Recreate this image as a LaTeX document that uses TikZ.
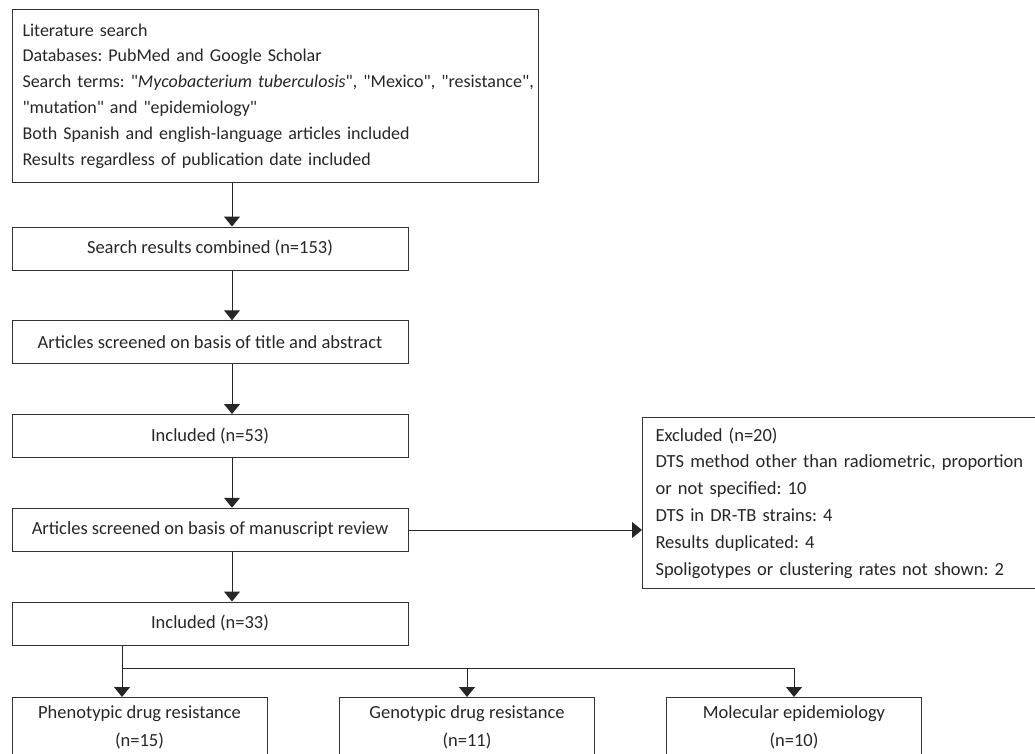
\documentclass[tikz,border=0pt]{standalone}
\usepackage{fontspec}
\setmainfont{Carlito}
\usetikzlibrary{arrows.meta,positioning}
\tikzstyle{search} = [rectangle, draw=black!80, line width=1pt, minimum width=526pt, minimum height=173pt, text width=506pt, inner xsep=10pt, inner ysep=0pt, align=left, font=\fontsize{18}{25.8}\selectfont]
\tikzstyle{process} = [rectangle, draw=black!80, line width=1pt, minimum width=396pt, minimum height=43pt, text centered, font=\fontsize{18.5}{20}\selectfont]
\tikzstyle{excluded} = [rectangle, draw=black!80, line width=1pt, minimum width=410pt, minimum height=171pt, text width=384pt, inner xsep=13pt, inner ysep=0pt, align=left, font=\fontsize{18.5}{26.8}\selectfont]
\tikzstyle{outcome} = [rectangle, draw=black!80, line width=1pt, minimum width=255pt, minimum height=60pt, align=center, inner ysep=0pt, font=\fontsize{18.5}{28}\selectfont]
\tikzstyle{arrow} = [line width=1pt, draw=black!85, -{Triangle[width=16pt,length=10pt]}]
\tikzstyle{line} = [line width=1pt, draw=black!85]
\newcommand{\qt}[1]{\textquotedbl#1\textquotedbl}

\begin{document}
\frenchspacing
\begin{tikzpicture}[x=1pt, y=-1pt, node distance=93.75pt, text=black!85]
\clip (0,0) rectangle (1035,754);
\useasboundingbox (0,0) rectangle (1035,754);

\node (lit) [search, anchor=north west] at (12,9) {Literature search\\
Databases: PubMed and Google Scholar\\
\mbox{Search terms: \qt{\textit{Mycobacterium tuberculosis}}, \qt{Mexico}, \qt{resistance},}\\
\qt{mutation} and \qt{epidemiology}\\
Both Spanish and english-language articles included\\
Results regardless of publication date included};
\node (comb) [process] at (210,248.5) {Search results combined (n=153)};
\node (title) [process, below of=comb] {Articles screened on basis of title and abstract};
\node (inc53) [process, below of=title] {Included (n=53)};
\node (manu) [process, below of=inc53] {Articles screened on basis of manuscript review};
\node (inc33) [process, below of=manu] {Included (n=33)};
\node (excl) [excluded, anchor=north west] at (642,417) {Excluded (n=20)\\
\mbox{DTS method other than radiometric, proportion}\\
or not specified: 10\\
DTS in DR-TB strains: 4\\
Results duplicated: 4\\
Spoligotypes or clustering rates not shown: 2};
\node (phen) [outcome, anchor=north] at (139.5,697) {Phenotypic drug resistance\\(n=15)};
\node (geno) [outcome, anchor=north] at (467,697) {Genotypic drug resistance\\(n=11)};
\node (mol) [outcome, anchor=north] at (794,697) {Molecular epidemiology\\(n=10)};

\coordinate (spine) at (232,0);
\coordinate (split) at (122,668);

\draw [arrow] (lit.south -| spine) -- (comb.north -| spine);
\draw [arrow] (comb.south -| spine) -- (title.north -| spine);
\draw [arrow] (title.south -| spine) -- (inc53.north -| spine);
\draw [arrow] (inc53.south -| spine) -- (manu.north -| spine);
\draw [arrow] (manu.south -| spine) -- (inc33.north -| spine);
\draw [arrow] (manu.east |- 0,530) -- (excl.west |- 0,530);
\draw [arrow] (inc33.south -| split) -- (phen.north -| split);
\draw [line] (split) -- (split -| mol.north);
\draw [arrow] (split -| geno.north) -- (geno.north);
\draw [arrow] (split -| mol.north) -- (mol.north);
\end{tikzpicture}
\end{document}
